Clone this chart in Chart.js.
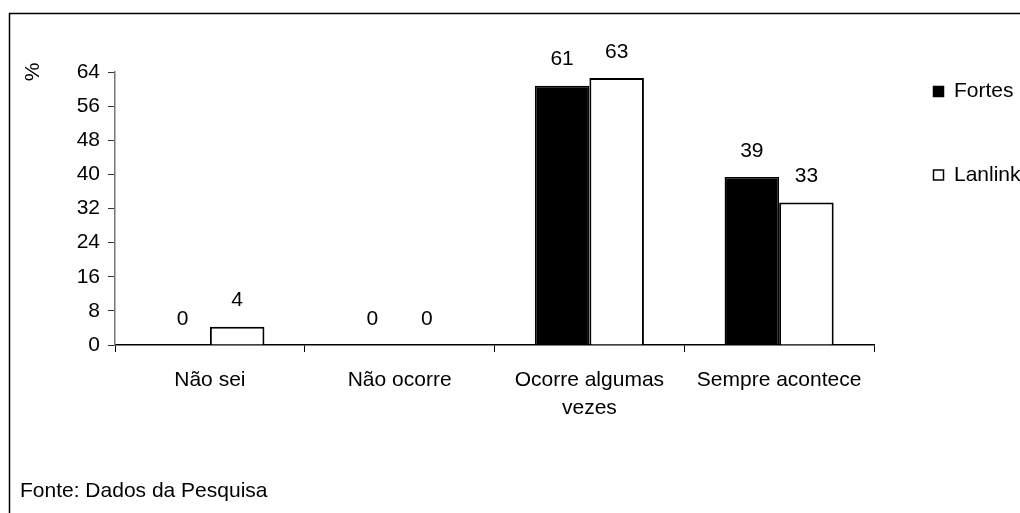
<!DOCTYPE html>
<html>
<head>
<meta charset="utf-8">
<script src="https://cdn.jsdelivr.net/npm/chart.js@4/dist/chart.umd.min.js"></script>
<style>
  body { margin: 0; background: #fff; }
  #wrap { width: 1020px; height: 513px; }
</style>
</head>
<body>
<div id="wrap"><canvas id="chart" width="1020" height="513"></canvas></div>
<script>
// values (labels shown rounded)
var categories = ['Não sei', 'Não ocorre', ['Ocorre algumas', 'vezes'], 'Sempre acontece'];
var fortes = [0, 0, 60.8, 39.4];
var lanlink = [4.3, 0, 62.6, 33.4];
var yTicks = [0, 8, 16, 24, 32, 40, 48, 56, 64];
var seriesNames = ['Fortes', 'Lanlink'];
var axisTitle = '%';
var sourceNote = 'Fonte: Dados da Pesquisa';

var FONT = 'Liberation Sans, Arial, sans-serif';
var FS = 21;

// white page, frame, footer note, axis title
var framePlugin = {
  id: 'frame',
  beforeDraw: function(chart) {
    var ctx = chart.ctx;
    ctx.save();
    ctx.fillStyle = '#fff';
    ctx.fillRect(0, 0, chart.width, chart.height);
    ctx.strokeStyle = '#000';
    ctx.lineWidth = 1.5;
    ctx.beginPath();
    ctx.moveTo(9.5, chart.height);
    ctx.lineTo(9.5, 13.5);
    ctx.lineTo(chart.width, 13.5);
    ctx.stroke();

    ctx.fillStyle = '#000';
    ctx.font = FS + 'px ' + FONT;
    ctx.textAlign = 'left';
    ctx.textBaseline = 'alphabetic';
    ctx.fillText(sourceNote, 20, 497);

    ctx.translate(33, 72);
    ctx.rotate(-Math.PI / 2);
    ctx.textAlign = 'center';
    ctx.textBaseline = 'middle';
    ctx.fillText(axisTitle, 0, 0);
    ctx.restore();
  }
};

// numbers above the bars
var valuePlugin = {
  id: 'values',
  afterDatasetsDraw: function(chart) {
    var ctx = chart.ctx;
    ctx.save();
    ctx.fillStyle = '#000';
    ctx.font = FS + 'px ' + FONT;
    ctx.textAlign = 'center';
    ctx.textBaseline = 'middle';
    chart.data.datasets.forEach(function(ds, i) {
      chart.getDatasetMeta(i).data.forEach(function(bar, j) {
        ctx.fillText(Math.round(ds.data[j]), bar.x, bar.y - 26);
      });
    });
    ctx.restore();
  }
};

// legend on the right, drawn by hand for the wide spacing
var legendPlugin = {
  id: 'sideLegend',
  afterDraw: function(chart) {
    var ctx = chart.ctx;
    ctx.save();
    ctx.font = FS + 'px ' + FONT;
    ctx.textBaseline = 'middle';
    ctx.textAlign = 'left';
    chart.data.datasets.forEach(function(ds, i) {
      var y = 86 + i * 83.5;
      ctx.fillStyle = ds.backgroundColor;
      ctx.fillRect(933, y, 11, 11);
      ctx.strokeStyle = '#000';
      ctx.lineWidth = 1.5;
      ctx.strokeRect(933.5, y + 0.5, 10, 10);
      ctx.fillStyle = '#000';
      ctx.fillText(ds.label, 954, y + 5.5);
    });
    ctx.restore();
  }
};

new Chart(document.getElementById('chart'), {
  type: 'bar',
  data: {
    labels: categories,
    datasets: [{
      label: seriesNames[0],
      data: fortes,
      backgroundColor: '#000',
      borderColor: '#000',
      borderWidth: 1.5
    }, {
      label: seriesNames[1],
      data: lanlink,
      backgroundColor: '#fff',
      borderColor: '#000',
      borderWidth: 2
    }]
  },
  options: {
    responsive: false,
    animation: false,
    layout: { padding: { left: 0, top: 72, right: 146, bottom: 0 } },
    plugins: {
      legend: { display: false },
      tooltip: { enabled: false }
    },
    datasets: {
      bar: { categoryPercentage: 0.575, barPercentage: 1 }
    },
    scales: {
      x: {
        afterFit: function(scale) { scale.height = 168; },
        grid: {
          offset: true,
          drawOnChartArea: false,
          drawTicks: true,
          tickLength: 7,
          color: '#000',
          lineWidth: 1
        },
        border: { display: true, color: '#000', width: 1.5 },
        ticks: {
          color: '#000',
          font: { family: FONT, size: FS, lineHeight: 1.33 },
          padding: 14,
          maxRotation: 0,
          autoSkip: false
        }
      },
      y: {
        min: 0,
        max: 64,
        afterFit: function(scale) { scale.width = 115; },
        afterBuildTicks: function(scale) {
          scale.ticks = yTicks.map(function(v) { return { value: v }; });
        },
        grid: {
          drawOnChartArea: false,
          drawTicks: true,
          tickLength: 7,
          color: '#333',
          lineWidth: 1
        },
        border: { display: true, color: '#777', width: 1.5 },
        ticks: {
          color: '#000',
          font: { family: FONT, size: FS },
          padding: 8
        }
      }
    }
  },
  plugins: [framePlugin, valuePlugin, legendPlugin]
});
</script>
</body>
</html>
